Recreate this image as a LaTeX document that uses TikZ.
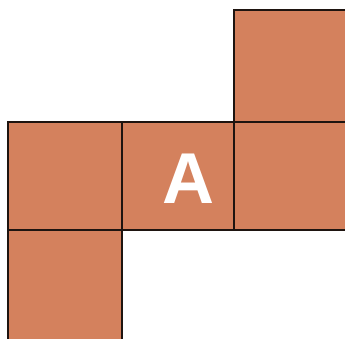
\documentclass[tikz,border=0pt]{standalone}
\usepackage{fontspec}
\setsansfont{Liberation Sans}
\usetikzlibrary{positioning}
\definecolor{tile}{HTML}{D4815D}
\definecolor{edge}{HTML}{1E1410}

\begin{document}
\begin{tikzpicture}[x=1pt,y=-1pt,
cell/.style={draw=edge,fill=tile,line width=1.6pt,anchor=north west,inner sep=0pt,outer sep=0pt},
lbl/.style={text=white,font=\sffamily\bfseries\fontsize{72}{72}\selectfont,inner sep=0pt}]
\useasboundingbox (0,0) rectangle (345,338);
\clip (0,0) rectangle (345,338);
\node[cell,minimum width=114pt,minimum height=108pt] (west) at (8,122) {};
\node[cell,minimum width=112pt,minimum height=108pt] (mid) at (122,122) {};
\node[cell,minimum width=116pt,minimum height=108pt] (east) at (234,122) {};
\node[cell,minimum width=116pt,minimum height=112pt] (north) at (234,10) {};
\node[cell,minimum width=114pt,minimum height=114pt] (south) at (8,230) {};
\node[lbl] (a) at (188,179) {A};
\end{tikzpicture}
\end{document}
